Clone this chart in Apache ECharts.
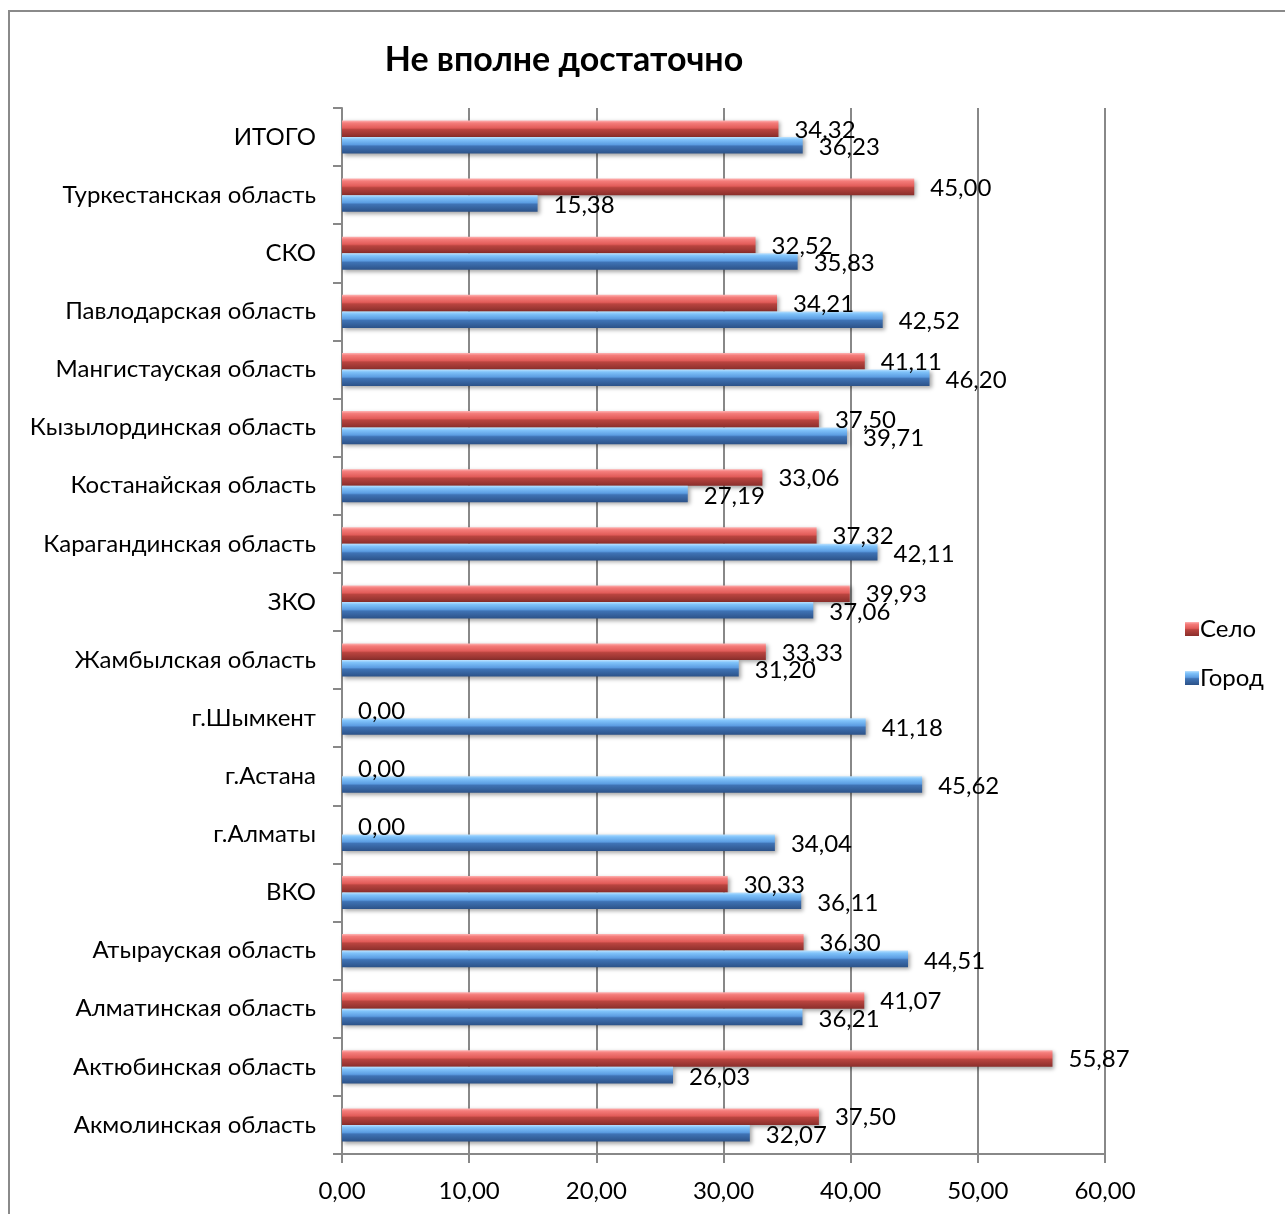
<!DOCTYPE html>
<html>
<head>
<meta charset="utf-8">
<script src="https://cdn.jsdelivr.net/npm/echarts@6/dist/echarts.min.js"></script>
<style>
html,body{margin:0;padding:0;background:#fff;}
#chart{width:1285px;height:1214px;}
</style>
</head>
<body>
<div id="chart"></div>
<script>
const categories = ["Акмолинская область","Актюбинская область","Алматинская область","Атырауская область","ВКО","г.Алматы","г.Астана","г.Шымкент","Жамбылская область","ЗКО","Карагандинская область","Костанайская область","Кызылординская область","Мангистауская область","Павлодарская область","СКО","Туркестанская область","ИТОГО"];
const selo = [37.50,55.87,41.07,36.30,30.33,0.00,0.00,0.00,33.33,39.93,37.32,33.06,37.50,41.11,34.21,32.52,45.00,34.32];
const gorod = [32.07,26.03,36.21,44.51,36.11,34.04,45.62,41.18,31.20,37.06,42.11,27.19,39.71,46.20,42.52,35.83,15.38,36.23];
const xTicks = {min:0, max:60, interval:10};
const FONT = 'Lato';
const FS = 24;

const chart = echarts.init(document.getElementById('chart'));
const fmt = v => v.toFixed(2).replace('.', ',');
const redGrad = new echarts.graphic.LinearGradient(0,0,0,1,[
  {offset:0,color:'#ffb4b4'},{offset:0.15,color:'#f47c7a'},{offset:0.45,color:'#e25c59'},
  {offset:0.55,color:'#b9443f'},{offset:1,color:'#8a2e2b'}]);
const blueGrad = new echarts.graphic.LinearGradient(0,0,0,1,[
  {offset:0,color:'#bce2ff'},{offset:0.15,color:'#80c3fa'},{offset:0.45,color:'#5c9de2'},
  {offset:0.55,color:'#3f73b5'},{offset:1,color:'#2c5288'}]);

chart.setOption({
  animation:false,
  textStyle:{fontFamily:FONT},
  graphic:[{type:'rect',shape:{x:9,y:11,width:1300,height:1250},style:{fill:'none',stroke:'#8a8a8a',lineWidth:2},silent:true}],
  title:{text:'Не вполне достаточно',left:559,top:38,textAlign:'center',
    textStyle:{fontFamily:FONT,fontSize:34,fontWeight:'bold',color:'#000'}},
  legend:{orient:'vertical',left:1180,top:612,itemGap:25,itemWidth:14,itemHeight:14,icon:'rect',
    data:['Село','Город'],textStyle:{fontFamily:FONT,fontSize:FS,color:'#000',padding:[0,0,0,-4]}},
  grid:{left:342,right:180,top:108,bottom:60,containLabel:false},
  xAxis:{type:'value',min:xTicks.min,max:xTicks.max,interval:xTicks.interval,
    axisLine:{show:true,lineStyle:{color:'#888',width:2}},
    axisTick:{show:true,length:9,lineStyle:{color:'#888',width:2}},
    splitLine:{show:true,lineStyle:{color:'#888',width:2}},
    axisLabel:{formatter:v=>fmt(v),fontFamily:FONT,fontSize:FS,color:'#000',margin:25}},
  yAxis:{type:'category',data:categories,
    axisLine:{show:true,lineStyle:{color:'#888',width:2}},
    axisTick:{show:true,length:9,lineStyle:{color:'#888',width:2}},
    axisLabel:{fontFamily:FONT,fontSize:FS,color:'#000',margin:26}},
  series:[
    {name:'Село',type:'bar',data:selo,barGap:'0%',barCategoryGap:'43%',
      itemStyle:{color:redGrad,shadowColor:'rgba(0,0,0,0.35)',shadowBlur:4,shadowOffsetX:2,shadowOffsetY:2},
      label:{show:true,position:'right',distance:16,offset:[0,1],formatter:p=>fmt(p.value),fontFamily:FONT,fontSize:FS,color:'#000'}},
    {name:'Город',type:'bar',data:gorod,barGap:'0%',barCategoryGap:'43%',
      itemStyle:{color:blueGrad,shadowColor:'rgba(0,0,0,0.35)',shadowBlur:4,shadowOffsetX:2,shadowOffsetY:2},
      label:{show:true,position:'right',distance:16,offset:[0,2],formatter:p=>fmt(p.value),fontFamily:FONT,fontSize:FS,color:'#000'}}
  ]
});
</script>
</body>
</html>
